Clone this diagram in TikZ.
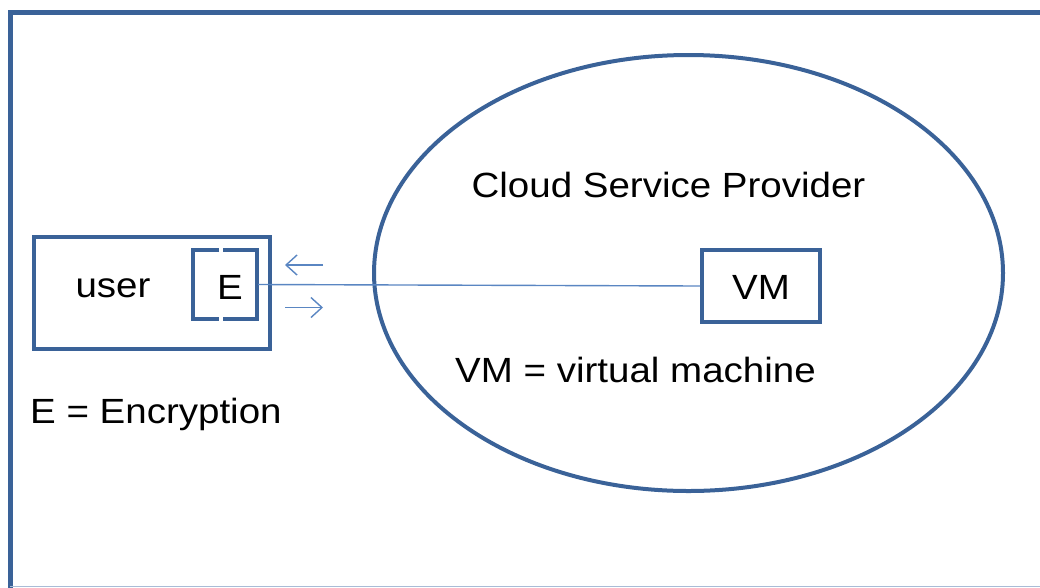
\documentclass[tikz,border=0pt]{standalone}
\usepackage{fontspec}
\setmainfont{Liberation Sans}[FakeStretch=1.1]
\usetikzlibrary{arrows.meta,shapes.geometric}
\definecolor{outline}{HTML}{3A6298}
\definecolor{wire}{HTML}{5A86C2}
\definecolor{rim}{HTML}{A9BCD6}
\tikzset{
  frameline/.style={draw=outline, line width=5pt},
  boxline/.style={draw=outline, line width=4pt},
  wireline/.style={draw=wire, line width=1.4pt},
  flow/.style={draw=wire, line width=1.4pt, -{Straight Barb[length=11pt,width=20pt,line width=1.4pt]}},
  lbl/.style={font=\fontsize{35}{40}\selectfont, text=black, inner sep=0pt},
}
\begin{document}
\begin{tikzpicture}[x=1pt,y=-1pt]
  \useasboundingbox (0,0) rectangle (1040,587);
  \clip (0,0) rectangle (1040,587);
  % outer frame: left and top edges; the others lie past the page rim
  \draw[frameline] (1080,12.5) -- (10,12.5) -- (10,590);
  \draw[draw=rim, line width=1.2pt] (10,586.4) -- (1040,586.4);

  % cloud provider
  \node[ellipse, boxline, minimum width=629pt, minimum height=436pt, inner sep=0pt] (cloud) at (688.5,273) {};
  \node[lbl, anchor=base] (cloudlbl) at (668.5,197) {Cloud Service Provider};
  \node[rectangle, boxline, minimum width=118pt, minimum height=72pt, inner sep=0pt] (vm) at (761,286) {};
  \node[lbl] (vmlbl) at (761,287) {VM};
  \node[lbl, anchor=base west] (vmkey) at (455,382) {VM = virtual machine};

  % user with encryption module
  \node[rectangle, boxline, minimum width=236pt, minimum height=112pt, inner sep=0pt] (user) at (152,293) {};
  \node[lbl] (userlbl) at (113,288) {user};
  \node[rectangle, minimum width=66pt, minimum height=69pt, inner sep=0pt] (enc) at (225,284.5) {};
  \draw[boxline] (219,250) -- (193,250) -- (193,319) -- (219,319);
  \draw[boxline] (223,250) -- (257,250) -- (257,319) -- (223,319);
  \node[lbl] (enclbl) at (230,287) {E};
  \node[lbl, anchor=base west] (enckey) at (30,423) {E = Encryption};

  % channel between user and VM
  \draw[wireline] (enc.east) -- (vm.west);
  \coordinate (inA) at (323,265);
  \coordinate (inB) at (285,265);
  \coordinate (outA) at (285,307.5);
  \coordinate (outB) at (323,307.5);
  \draw[flow] (inA) -- (inB);
  \draw[flow] (outA) -- (outB);
\end{tikzpicture}
\end{document}
